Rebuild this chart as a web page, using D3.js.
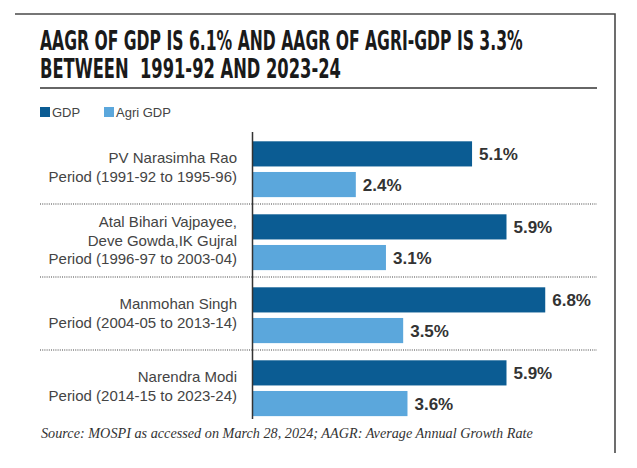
<!DOCTYPE html>
<html>
<head>
<meta charset="utf-8">
<script src="https://cdn.jsdelivr.net/npm/d3@7"></script>
<style>
  body { margin:0; background:#fff; }
  text { font-family: "Liberation Sans", Arial, sans-serif; }
</style>
</head>
<body>
<div id="chart"></div>
<script>
const periods = ['rao','vajpayee','singh','modi'];
const periodLabels = [['PV Narasimha Rao','Period (1991-92 to 1995-96)'],
                      ['Atal Bihari Vajpayee,','Deve Gowda,IK Gujral','Period (1996-97 to 2003-04)'],
                      ['Manmohan Singh','Period (2004-05 to 2013-14)'],
                      ['Narendra Modi','Period (2014-15 to 2023-24)']];
const gdp = [5.1, 5.9, 6.8, 5.9];
const agriGdp = [2.4, 3.1, 3.5, 3.6];
const seriesKeys = ['gdp','agri'];
const seriesNames = ['GDP','Agri GDP'];
const titleLines = ['AAGR OF GDP IS 6.1% AND AAGR OF AGRI-GDP IS 3.3%','BETWEEN  1991-92 AND 2023-24'];
const source = 'Source: MOSPI as accessed on March 28, 2024; AAGR: Average Annual Growth Rate';

const W = 637, H = 468;
const colors = {'gdp':'#0b5c93','agri':'#5ba7dc'};
var svg, x, y0, y1;

// squeeze a text horizontally so it fills the wanted width
function fitWidth(sel, wanted){
  sel.each(function(d,i){
    let t = d3.select(this);
    let w = this.getComputedTextLength();
    let target = typeof wanted == 'function' ? wanted(d,i) : wanted;
    let x0 = +t.attr('x'), yb = +t.attr('y');
    t.attr('x',0).attr('y',0)
     .attr('transform',`translate(${x0},${yb}) scale(${target/w},1)`)
  })
}

function setup(){
  svg = d3.select('#chart')
          .append('svg')
          .attr('width',W)
          .attr('height',H)
  svg.append('rect').attr('width',W).attr('height',H).attr('fill','#fff')

  // frame: top + right only
  svg.append('path')
     .attr('d','M15,14 H615 V453')
     .attr('fill','none')
     .attr('stroke','#4a4a4a')
     .attr('stroke-width',1.6)

  svg.selectAll('.title')
     .data(titleLines)
     .join('text')
     .attr('class','title')
     .attr('x',40)
     .attr('y',(d,i) => 50 + i*28)
     .style('font-family','"Liberation Sans Narrow", "DejaVu Sans Condensed", sans-serif')
     .style('font-weight','bold')
     .style('font-size','26px')
     .style('fill','#1a1a1a')
     .style('white-space','pre')
     .text(d => d)
     .call(fitWidth,(d,i) => i == 0 ? 483 : 301)

  svg.append('line')
     .attr('x1',40).attr('x2',597)
     .attr('y1',88).attr('y2',88)
     .attr('stroke','#333')
     .attr('stroke-width',1.5)

  // legend
  let lx = [40,104];
  seriesKeys.forEach((k,i) => {
    svg.append('rect')
       .attr('x',lx[i]).attr('y',107)
       .attr('width',10).attr('height',10)
       .attr('fill',colors[k])
    svg.append('text')
       .attr('x',lx[i] + 12).attr('y',116.5)
       .style('font-size','13px')
       .style('fill','#444')
       .text(seriesNames[i])
  })
}

function setScales(){
  x = d3.scaleLinear()
        .domain([0,7])
        .range([252.5, 252.5 + 7*43.05])
  y0 = d3.scaleBand()
         .domain(periods)
         .range([131,423])
  y1 = d3.scaleBand()
         .domain(seriesKeys)
         .range([0,y0.bandwidth()])
         .paddingInner(0.18)
         .paddingOuter(0.28)
         .align(0.6)
}

function drawBars(){
  let rows = periods.map((p,i) => ({'period':p,'gdp':gdp[i],'agri':agriGdp[i],'label':periodLabels[i]}));

  // dotted separators between periods
  svg.selectAll('.sep')
     .data(periods.slice(1))
     .join('line')
     .attr('class','sep')
     .attr('x1',40).attr('x2',597)
     .attr('y1',d => y0(d)).attr('y2',d => y0(d))
     .attr('stroke','#444')
     .attr('stroke-width',1.2)
     .attr('stroke-dasharray','1,1.2')

  let groups = svg.selectAll('.group')
                  .data(rows)
                  .join('g')
                  .attr('class','group')
                  .attr('transform',d => `translate(0,${y0(d.period)})`)

  groups.selectAll('rect')
        .data(d => seriesKeys.map(k => ({'key':k,'value':d[k]})))
        .join('rect')
        .attr('x',x(0))
        .attr('y',d => y1(d.key))
        .attr('width',d => x(d.value) - x(0))
        .attr('height',y1.bandwidth())
        .attr('fill',d => colors[d.key])

  groups.selectAll('.val')
        .data(d => seriesKeys.map(k => ({'key':k,'value':d[k]})))
        .join('text')
        .attr('class','val')
        .attr('x',d => x(d.value) + 7)
        .attr('y',d => y1(d.key) + y1.bandwidth()/2)
        .attr('dy','0.36em')
        .style('font-size','17px')
        .style('font-weight','bold')
        .style('fill','#333')
        .text(d => d.value.toFixed(1) + '%')

  // category labels, centred on the group
  groups.each(function(d){
    let n = d.label.length;
    let mid = y0.bandwidth()/2 + 5;
    d3.select(this).selectAll('.cat')
      .data(d.label)
      .join('text')
      .attr('class','cat')
      .attr('x',237)
      .attr('y',(t,i) => mid + (i - (n-1)/2)*18.5)
      .attr('text-anchor','end')
      .style('font-size','15px')
      .style('fill','#444')
      .text(t => t)
  })

  // axis line
  svg.append('line')
     .attr('x1',x(0)).attr('x2',x(0))
     .attr('y1',132).attr('y2',419)
     .attr('stroke','#333')
     .attr('stroke-width',1.5)

  svg.append('text')
     .attr('x',41).attr('y',438)
     .style('font-family','"Liberation Serif", "DejaVu Serif", serif')
     .style('font-style','italic')
     .style('font-size','14px')
     .style('fill','#333')
     .text(source)
     .call(fitWidth,492)
}

setup()
setScales()
drawBars()
</script>
</body>
</html>
